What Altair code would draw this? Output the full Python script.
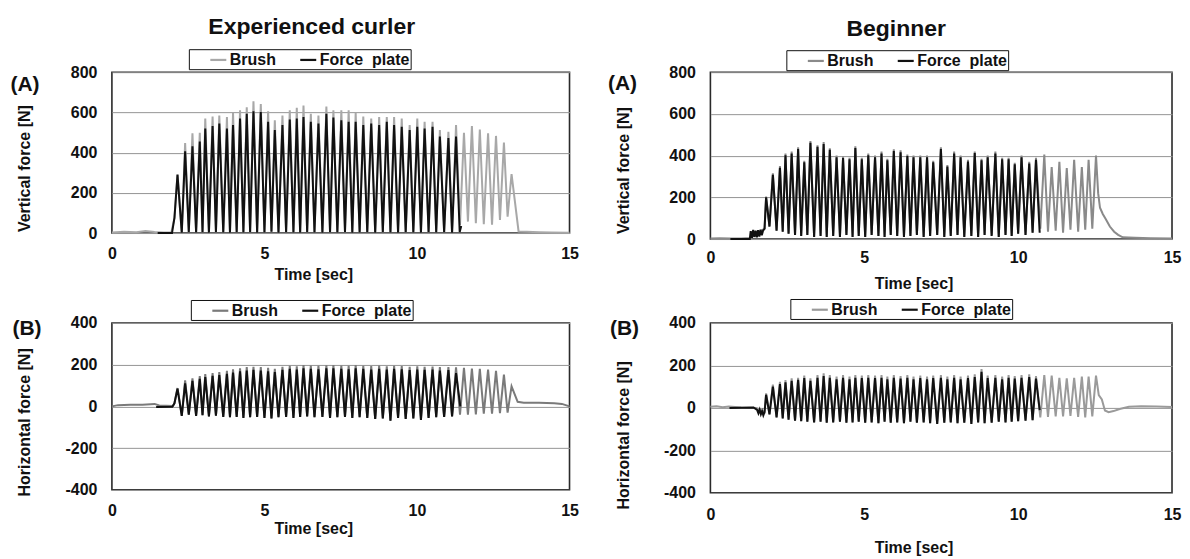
import altair as alt
import pandas as pd

FONT = "Liberation Sans"
SERIES = ["Brush", "Force\u00a0 plate"]

# ---------------- Experienced curler ----------------
E_PEAK_T = [2.15, 2.40, 2.64, 2.88, 3.06, 3.30, 3.52, 3.77, 3.97, 4.20,
            4.42, 4.64, 4.88, 5.12, 5.34, 5.59, 5.83, 6.06, 6.28, 6.52,
            6.77, 7.03, 7.26, 7.52, 7.76, 7.99, 8.24, 8.50, 8.76, 9.01,
            9.25, 9.50, 9.76, 10.01, 10.25, 10.51, 10.75, 11.03, 11.28,
            11.54, 11.80, 12.06, 12.33, 12.59, 12.85, 13.10]
E_TROUGH_T = [2.29, 2.52, 2.76, 2.97, 3.18, 3.41, 3.65, 3.87, 4.09, 4.31,
              4.53, 4.76, 5.00, 5.23, 5.46, 5.71, 5.95, 6.17, 6.40, 6.64,
              6.90, 7.15, 7.39, 7.64, 7.88, 8.12, 8.37, 8.63, 8.88, 9.13,
              9.38, 9.63, 9.88, 10.13, 10.38, 10.63, 10.89, 11.15, 11.41,
              11.67, 11.93, 12.19, 12.46, 12.72, 12.97]

# vertical force (A)
E_V_BRUSH_PEAK = [293, 447, 496, 499, 569, 580, 585, 577, 597, 610,
                  626, 655, 642, 606, 561, 585, 610, 623, 634, 593,
                  585, 629, 610, 610, 610, 597, 580, 569, 577, 577,
                  577, 569, 537, 569, 553, 553, 512, 504, 537, 499,
                  532, 515, 496, 483, 450, 293]
E_V_FORCE_PEAK = [290, 407, 431, 455, 520, 532, 545, 520, 537, 569,
                  593, 606, 602, 553, 512, 537, 564, 569, 577, 553,
                  545, 593, 575, 561, 553, 553, 537, 545, 537, 553,
                  537, 528, 512, 528, 520, 528, 480, 472, 480]
E_V_TROUGH = [2, 6, 3, 4, 2, 5, 3, 2, 4, 3, 5, 2, 3, 6, 2, 4, 3, 2, 5, 3,
              2, 4, 3, 5, 2, 3, 4, 2, 5, 3, 2, 4, 3, 2, 5, 3, 4, 2,
              40, 57, 49, 44, 41, 65, 81]
E_V_BRUSH_PRE_T = [0.0, 0.4, 0.8, 1.1, 1.4, 1.7, 1.95, 2.05]
E_V_BRUSH_PRE_V = [3, 6, 4, 10, 5, 3, 4, 75]
E_V_BRUSH_POST_T = [13.33, 13.6, 14.0, 14.4, 15.0]
E_V_BRUSH_POST_V = [8, 6, 4, 3, 2]
E_V_FORCE_PRE_T = [1.50, 1.97, 2.05]
E_V_FORCE_PRE_V = [0, 0, 75]
E_V_FORCE_POST_T = [11.40, 11.45]
E_V_FORCE_POST_V = [5, 35]

# horizontal force (B)
E_H_BRUSH_PEAK = [88, 125, 135, 145, 155, 160, 165, 170, 178, 183,
                  188, 190, 188, 185, 180, 190, 195, 192, 198, 196,
                  194, 197, 198, 196, 195, 198, 195, 193, 196, 192,
                  195, 193, 190, 192, 190, 191, 188, 189, 187, 185,
                  181, 180, 176, 171, 152, 96]
E_H_FORCE_PEAK = [85, 110, 122, 132, 140, 146, 150, 156, 162, 168,
                  172, 175, 172, 168, 165, 175, 180, 176, 182, 180,
                  178, 182, 183, 180, 178, 183, 180, 176, 180, 176,
                  180, 178, 174, 176, 175, 176, 172, 174, 160]
E_H_TROUGH = [-45, -40, -45, -42, -48, -45, -50, -52, -50, -55,
              -52, -50, -55, -58, -52, -50, -55, -50, -48, -52,
              -50, -55, -52, -50, -55, -52, -55, -60, -58, -68,
              -55, -60, -58, -65, -55, -52, -50, -48,
              -40, -40, -38, -35, -35, -32, -30]
E_H_BRUSH_PRE_T = [0.0, 0.2, 0.6, 1.0, 1.4, 1.55, 2.0, 2.05]
E_H_BRUSH_PRE_V = [0, 6, 8, 8, 12, 4, 2, 15]
E_H_BRUSH_POST_T = [13.3, 13.5, 14.0, 14.5, 14.75, 15.0]
E_H_BRUSH_POST_V = [22, 18, 17, 15, 12, 0]
E_H_FORCE_PRE_T = [1.45, 1.98, 2.05]
E_H_FORCE_PRE_V = [-3, -2, 15]
E_H_FORCE_POST_T = [11.42]
E_H_FORCE_POST_V = [0]

# ---------------- Beginner ----------------
B_PEAK_T = [1.81, 2.03, 2.26, 2.44, 2.64, 2.85, 3.05, 3.25, 3.48, 3.68,
            3.88, 4.10, 4.31, 4.52, 4.71, 4.92, 5.13, 5.35, 5.56, 5.75,
            5.96, 6.18, 6.40, 6.60, 6.82, 7.04, 7.24, 7.49, 7.70, 7.92,
            8.13, 8.37, 8.59, 8.81, 9.01, 9.26, 9.48, 9.69, 9.89, 10.11,
            10.36, 10.58, 10.85, 11.09, 11.34, 11.58, 11.82, 12.07, 12.29, 12.53]
B_TROUGH_T = [1.92, 2.15, 2.35, 2.54, 2.75, 2.95, 3.15, 3.37, 3.58, 3.78,
              3.99, 4.21, 4.42, 4.62, 4.82, 5.03, 5.24, 5.46, 5.66, 5.86,
              6.07, 6.29, 6.50, 6.71, 6.93, 7.14, 7.37, 7.60, 7.81, 8.03,
              8.25, 8.48, 8.70, 8.91, 9.14, 9.37, 9.59, 9.79, 10.00, 10.24,
              10.47, 10.72, 10.97, 11.22, 11.46, 11.70, 11.95, 12.18, 12.41]

B_V_BRUSH_PEAK = [204, 315, 350, 410, 420, 440, 375, 470, 450, 465,
                  435, 400, 395, 390, 445, 390, 410, 400, 420, 385,
                  430, 425, 405, 400, 400, 400, 375, 440, 355, 420,
                  400, 380, 420, 385, 400, 420, 390, 390, 365, 400,
                  370, 390, 405, 345, 370, 340, 380, 345, 380, 400]
B_V_FORCE_PEAK = [200, 308, 342, 402, 410, 432, 368, 462, 442, 455,
                  428, 392, 388, 382, 436, 382, 402, 392, 410, 378,
                  422, 416, 398, 392, 392, 392, 368, 432, 348, 410,
                  392, 372, 412, 378, 392, 410, 382, 382, 358, 392,
                  362, 380]
B_V_TROUGH = [60, 40, 35, 25, 20, 15, 20, 10, 15, 10,
              15, 10, 20, 10, 15, 10, 20, 15, 10, 20,
              15, 10, 15, 20, 10, 15, 20, 10, 15, 20,
              10, 15, 10, 20, 15, 10, 20, 15, 25, 20,
              30, 50, 35, 40, 30, 45, 35, 45, 50]
B_V_BRUSH_PRE_T = [0.0, 0.3, 0.65, 1.0, 1.3, 1.76]
B_V_BRUSH_PRE_V = [2, 4, 2, 3, 5, 50]
B_V_BRUSH_POST_T = [12.60, 12.66, 12.75, 12.85, 12.98, 13.12, 13.25, 13.40, 13.8, 14.3, 15.0]
B_V_BRUSH_POST_V = [220, 150, 120, 95, 60, 35, 20, 8, 6, 4, 2]
B_V_FORCE_PRE_T = [0.65, 1.28, 1.31, 1.35, 1.39, 1.43, 1.47, 1.51, 1.55, 1.59, 1.63, 1.67, 1.71, 1.76]
B_V_FORCE_PRE_V = [0, 0, 38, 6, 44, 10, 40, 8, 42, 12, 45, 18, 40, 50]
B_V_FORCE_POST_T = [10.70]
B_V_FORCE_POST_V = [30]

B_H_BRUSH_PEAK = [68, 110, 123, 131, 139, 142, 152, 139, 155, 163,
                  155, 147, 155, 147, 155, 152, 155, 152, 155, 147,
                  155, 150, 155, 147, 152, 147, 152, 155, 147, 155,
                  147, 152, 158, 183, 152, 155, 147, 155, 150, 155,
                  158, 150, 155, 152, 142, 139, 142, 147, 147, 152]
B_H_FORCE_PEAK = [62, 100, 112, 120, 128, 132, 140, 128, 142, 150,
                  142, 135, 142, 135, 142, 140, 142, 140, 142, 135,
                  142, 138, 142, 135, 140, 135, 140, 142, 135, 142,
                  135, 140, 145, 170, 140, 142, 135, 142, 138, 142,
                  145, 138]
B_H_TROUGH = [-30, -45, -50, -55, -60, -62, -65, -68, -65, -70,
              -68, -65, -70, -68, -65, -70, -68, -72, -65, -70,
              -68, -72, -65, -70, -68, -72, -75, -70, -68, -72,
              -70, -75, -68, -72, -70, -65, -68, -65, -62, -60,
              -58, -45, -42, -40, -40, -38, -42, -45, -40]
B_H_BRUSH_PRE_T = [0.0, 0.2, 0.4, 0.6, 1.0, 1.5, 1.76]
B_H_BRUSH_PRE_V = [5, 8, 3, 6, 2, 0, -20]
B_H_BRUSH_POST_T = [12.62, 12.72, 12.82, 12.94, 13.1, 13.3, 13.6, 14.0, 14.5, 15.0]
B_H_BRUSH_POST_V = [60, 40, -12, -20, -15, -5, 5, 8, 6, 4]
B_H_FORCE_PRE_T = [0.62, 1.40, 1.52, 1.56, 1.60, 1.64, 1.68, 1.72, 1.76]
B_H_FORCE_PRE_V = [0, 2, -10, -25, -8, -30, -15, -35, -20]
B_H_FORCE_POST_T = [10.70]
B_H_FORCE_POST_V = [-10]


def series(name, pre_t, pre_v, peak_t, peak_v, trough_t, trough_v, post_t, post_v):
    n = len(peak_v)
    ts, vs = list(pre_t), list(pre_v)
    for i in range(n):
        ts.append(peak_t[i]); vs.append(peak_v[i])
        if i < n - 1:
            ts.append(trough_t[i]); vs.append(trough_v[i])
    ts += list(post_t); vs += list(post_v)
    return pd.DataFrame({"t": ts, "v": vs, "series": name})


def panel_df(bp, fp):
    return pd.concat([series(SERIES[0], *bp), series(SERIES[1], *fp)], ignore_index=True)


df_tl = panel_df(
    (E_V_BRUSH_PRE_T, E_V_BRUSH_PRE_V, E_PEAK_T, E_V_BRUSH_PEAK, E_TROUGH_T, E_V_TROUGH, E_V_BRUSH_POST_T, E_V_BRUSH_POST_V),
    (E_V_FORCE_PRE_T, E_V_FORCE_PRE_V, E_PEAK_T, E_V_FORCE_PEAK, E_TROUGH_T, E_V_TROUGH, E_V_FORCE_POST_T, E_V_FORCE_POST_V))
df_bl = panel_df(
    (E_H_BRUSH_PRE_T, E_H_BRUSH_PRE_V, E_PEAK_T, E_H_BRUSH_PEAK, E_TROUGH_T, E_H_TROUGH, E_H_BRUSH_POST_T, E_H_BRUSH_POST_V),
    (E_H_FORCE_PRE_T, E_H_FORCE_PRE_V, E_PEAK_T, E_H_FORCE_PEAK, E_TROUGH_T, E_H_TROUGH, E_H_FORCE_POST_T, E_H_FORCE_POST_V))
df_tr = panel_df(
    (B_V_BRUSH_PRE_T, B_V_BRUSH_PRE_V, B_PEAK_T, B_V_BRUSH_PEAK, B_TROUGH_T, B_V_TROUGH, B_V_BRUSH_POST_T, B_V_BRUSH_POST_V),
    (B_V_FORCE_PRE_T, B_V_FORCE_PRE_V, B_PEAK_T, B_V_FORCE_PEAK, B_TROUGH_T, B_V_TROUGH, B_V_FORCE_POST_T, B_V_FORCE_POST_V))
df_br = panel_df(
    (B_H_BRUSH_PRE_T, B_H_BRUSH_PRE_V, B_PEAK_T, B_H_BRUSH_PEAK, B_TROUGH_T, B_H_TROUGH, B_H_BRUSH_POST_T, B_H_BRUSH_POST_V),
    (B_H_FORCE_PRE_T, B_H_FORCE_PRE_V, B_PEAK_T, B_H_FORCE_PEAK, B_TROUGH_T, B_H_TROUGH, B_H_FORCE_POST_T, B_H_FORCE_POST_V))

VERT_DOM, VERT_TICKS = [0, 800], [0, 200, 400, 600, 800]
HORZ_DOM, HORZ_TICKS = [-400, 400], [-400, -200, 0, 200, 400]
INK = "#111111"


def panel(df, tag, tag_x, tag_y, col_title, col_dx, col_off, ydom, yvals, ytitle, grey,
          w, h, leg_x, leg_y, lab_pad, xt_y, yt_y):
    cscale = alt.Scale(domain=SERIES, range=[grey, INK])
    legend = alt.Legend(title=None, orient="none", legendX=leg_x, legendY=leg_y,
                        direction="horizontal", symbolType="stroke", symbolSize=256,
                        symbolStrokeWidth=2.2, labelFont=FONT, labelFontSize=16,
                        labelFontWeight="bold", labelColor=INK,
                        strokeColor=INK, fillColor="white", padding=1,
                        columnPadding=3, symbolOffset=19, labelOffset=2)
    xscale = alt.Scale(domain=[0, 15], nice=False, zero=False)
    x_bottom = alt.X("t:Q", scale=xscale,
                     axis=alt.Axis(orient="bottom", values=[0, 5, 10, 15], title="Time [sec]",
                                   grid=False, ticks=False, domain=False, labelFont=FONT,
                                   labelFontSize=16, labelFontWeight="bold", labelColor=INK,
                                   labelPadding=lab_pad, labelFlush=False, titleFont=FONT,
                                   titleFontSize=16, titleFontWeight="bold", titleColor=INK,
                                   titleX=0.44 * w, titleY=xt_y, titleBaseline="middle",
                                   titleAlign="center"))
    x_top = alt.X("t:Q", scale=xscale,
                  axis=alt.Axis(orient="top", title=tag, labels=False, grid=False,
                                ticks=False, domain=False, titleFont=FONT, titleFontSize=21,
                                titleFontWeight="bold", titleColor=INK, titleAngle=0,
                                titleX=tag_x, titleY=tag_y, titleBaseline="top",
                                titleAlign="left"))
    y = alt.Y("v:Q", scale=alt.Scale(domain=ydom, nice=False, zero=False),
              axis=alt.Axis(values=yvals, title=ytitle, grid=True, gridColor="#959595",
                            gridWidth=1, ticks=False, domain=False, labelFont=FONT,
                            labelFontSize=16, labelFontWeight="bold",
                            labelColor=INK, labelPadding=15, labelFlush=False,
                            labelExpr="'' + datum.value",
                            titleFont=FONT, titleFontSize=16, titleFontWeight="bold",
                            titleColor=INK, titleX=-87, titleY=yt_y,
                            titleBaseline="middle", titleAlign="center"))
    color = alt.Color("series:N", scale=cscale, legend=legend)
    brush = alt.Chart(df).transform_filter(alt.datum.series == SERIES[0]).mark_line(
        strokeWidth=2).encode(x=x_bottom, y=y, color=color)
    force = alt.Chart(df).transform_filter(alt.datum.series == SERIES[1]).mark_line(
        strokeWidth=2).encode(x=x_top, y=y, color=color)
    props = dict(width=w, height=h)
    if col_title:
        props["title"] = alt.TitleParams(col_title, anchor="middle", frame="group", dx=col_dx,
                                         offset=col_off, font=FONT, fontSize=23,
                                         fontWeight="bold", color=INK)
    return alt.layer(brush, force).resolve_axis(x="independent").properties(**props)


tl = panel(df_tl, "(A)", -102, 1, "Experienced curler", -29, 10, VERT_DOM, VERT_TICKS,
           "Vertical force [N]", "#a8a8a8", 458, 161, 77, -23, 12.5, 41, 96)
tr = panel(df_tr, "(A)", -103, 0, "Beginner", -45, 9, VERT_DOM, VERT_TICKS,
           "Vertical force [N]", "#8a8a8a", 462, 167, 76, -22, 10.5, 45, 98)
bl = panel(df_bl, "(B)", -100, -5, None, 0, 0, HORZ_DOM, HORZ_TICKS,
           "Horizontal force [N]", "#7a7a7a", 458, 167, 79, -23, 12.5, 39, 99)
br = panel(df_br, "(B)", -101, -5, None, 0, 0, HORZ_DOM, HORZ_TICKS,
           "Horizontal force [N]", "#9a9a9a", 462, 170, 80, -24, 13.5, 55, 112)

chart = alt.concat(tl, tr, bl, br, columns=2, bounds="flush",
                   spacing={"row": 84, "column": 141}).resolve_scale(
    color="independent").resolve_legend(color="independent").properties(
    padding={"left": 1, "top": 6, "right": 0, "bottom": 0}, background="white"
).configure_view(stroke="#2a2a2a", strokeWidth=1.6)

chart.save("out.html", embed_options={"renderer": "svg", "actions": False})
